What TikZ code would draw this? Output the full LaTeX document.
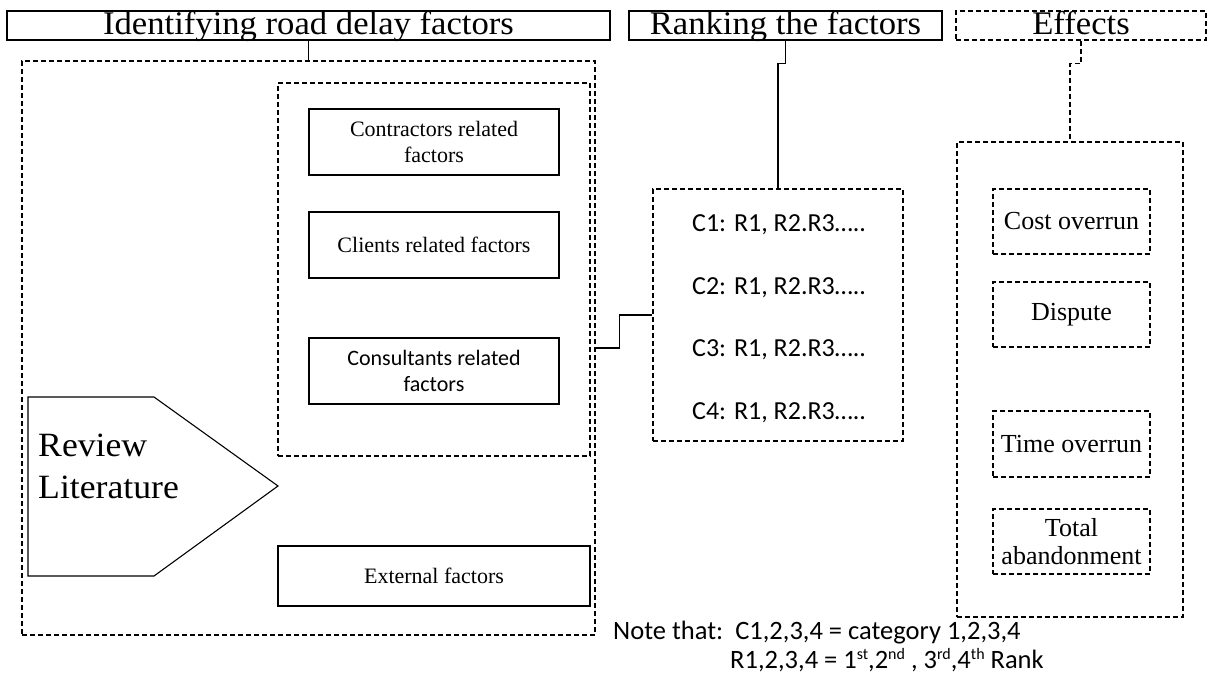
\documentclass[tikz,border=0pt]{standalone}
\usepackage{fontspec}
\setmainfont{Liberation Serif}
\newfontfamily\calib{Carlito}
\newfontfamily\widerserif[FakeStretch=1.05]{Liberation Serif}
\newcommand{\supr}[1]{\raisebox{9pt}{\fontsize{16}{16}\selectfont #1}}
\begin{document}
\begin{tikzpicture}[x=1pt,y=-1pt,
  solidbox/.style={draw, line width=1.1pt, inner sep=0pt},
  dashbox/.style={draw, line width=1.1pt, dash pattern=on 5pt off 3pt, inner sep=0pt},
  titlefont/.style={font=\widerserif\fontsize{33}{40}\selectfont},
  bigserif/.style={font=\widerserif\fontsize{34}{42}\selectfont},
  smallserif/.style={font=\fontsize{22}{26}\selectfont},
  effserif/.style={font=\fontsize{26}{28}\selectfont},
  calsmall/.style={font=\calib\fontsize{22}{26}\selectfont},
  calmid/.style={font=\calib\fontsize{26}{30}\selectfont},
  calnote/.style={font=\calib\fontsize{26.5}{27}\selectfont},
  conn/.style={line width=1.1pt},
  dconn/.style={line width=1.1pt, dash pattern=on 5pt off 3pt},
]
\useasboundingbox (0,0) rectangle (1208,682);
\fill[white] (0,0) rectangle (1208,682);

% titles
\node[solidbox, titlefont, minimum width=603pt, text height=24pt, text depth=5pt] (t1) at (308.5,25.5) {Identifying road delay factors};
\node[solidbox, titlefont, minimum width=313pt, text height=24pt, text depth=5pt] (t2) at (785.5,25.5) {Ranking the factors};
\node[dashbox, titlefont, minimum width=250pt, text height=24pt, text depth=5pt] (t3) at (1081,25.5) {Effects};

% left section
\node[dashbox, minimum width=573pt, minimum height=574pt] (o1) at (308.5,348) {};
\node[dashbox, minimum width=312pt, minimum height=373pt] (i1) at (434,269.5) {};
\node[solidbox, smallserif, align=center, minimum width=250pt, minimum height=66pt] (c1) at (434,142) {Contractors related\\factors};
\node[solidbox, smallserif, minimum width=250pt, minimum height=66pt] (c2) at (434,245) {Clients related factors};
\node[solidbox, calsmall, align=center, minimum width=250pt, minimum height=66pt] (c3) at (434,371) {Consultants related\\factors};
\node[solidbox, smallserif, minimum width=312pt, minimum height=60pt] (ext) at (434,576) {External factors};

\draw[line width=1.1pt, fill=white] (28,397) -- (154,397) -- (278,486) -- (154,576) -- (28,576) -- cycle;
\node[bigserif, anchor=base west, inner sep=0pt] (rl1) at (38,456) {Review};
\node[bigserif, anchor=base west, inner sep=0pt] (rl2) at (38,498) {Literature};

% ranking section
\node[dashbox, minimum width=250pt, minimum height=252pt] (cb) at (778,315) {};
\node[calmid, anchor=base west, inner sep=0pt] (r1) at (692,231) {C1: R1, R2.R3…..};
\node[calmid, anchor=base west, inner sep=0pt] (r2) at (692,294) {C2: R1, R2.R3…..};
\node[calmid, anchor=base west, inner sep=0pt] (r3) at (692,356) {C3: R1, R2.R3…..};
\node[calmid, anchor=base west, inner sep=0pt] (r4) at (692,419) {C4: R1, R2.R3…..};

% effects section
\node[dashbox, minimum width=226pt, minimum height=475pt] (eo) at (1070,379.5) {};
\node[dashbox, effserif, minimum width=157pt, minimum height=65pt] (co) at (1071.5,221.5) {Cost overrun};
\node[dashbox, effserif, minimum width=157pt, minimum height=65pt] (dp) at (1071.5,314.5) {Dispute};
\node[dashbox, effserif, minimum width=157pt, minimum height=66pt] (tm) at (1071.5,444) {Time overrun};
\node[dashbox, effserif, align=center, minimum width=157pt, minimum height=65pt] (ta) at (1071.5,541.5) {Total\\abandonment};

% note
\node[calnote, anchor=base west, inner sep=0pt] (n1) at (613,639) {Note that:\ \ C1,2,3,4 = category 1,2,3,4};
\node[calnote, anchor=base west, inner sep=0pt] (n2) at (730,668) {R1,2,3,4 = 1\supr{st},2\supr{nd} , 3\supr{rd},4\supr{th} Rank};

% connectors
\draw[conn] (t1.south) -- (o1.north);
\draw[conn] (t2.south) -- ++(0,23) -| (cb.north);
\draw[dconn] (t3.south) -- ++(0,23) -| (eo.north);
\draw[conn] (o1.east) -- ++(24,0) |- (cb.west);
\end{tikzpicture}
\end{document}
